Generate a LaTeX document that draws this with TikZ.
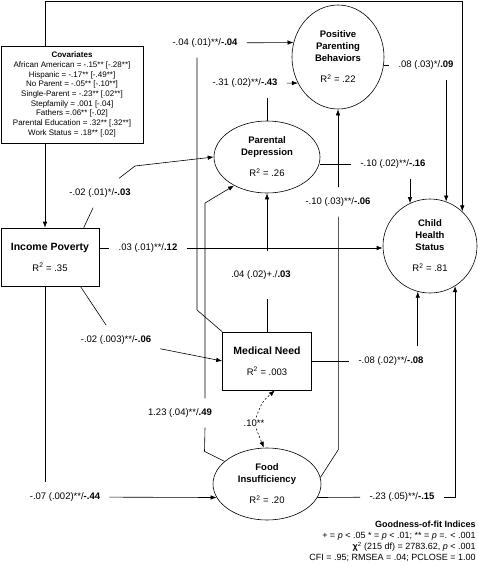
\documentclass[tikz,border=0pt]{standalone}
\usepackage{fontspec}
\setmainfont{Liberation Sans}
\usetikzlibrary{arrows.meta, calc, positioning, shapes}

\begin{document}
\begin{tikzpicture}[x=1pt, y=-1pt, line width=0.6pt,
	>={Latex[length=6pt,width=4.5pt]},
	every node/.style={font=\fontsize{9.5}{12}\selectfont},
	boxnode/.style={draw, rectangle, align=center, inner sep=0pt},
	ovalnode/.style={draw, ellipse, align=center, inner sep=0pt},
	pathlbl/.style={inner xsep=9pt, inner ysep=10pt},
	dotline/.style={dash pattern=on 2pt off 2pt}]
	\useasboundingbox (0,0) rectangle (478,566);
	\coordinate (topleft) at (45,1);
	\coordinate (mn-out) at (197,310);
	\coordinate (pd-in) at (205,203);
	
	% covariates and income poverty
	\node[boxnode, minimum width=142, minimum height=97, font=\fontsize{8}{9.7}\selectfont] (cov) at (72,94.5)
	{\textbf{Covariates}\\ African American = -.15** [-.28**]\\ Hispanic = -.17** [-.49**]\\
	 No Parent = -.05** [-.10**]\\ Single-Parent = -.23** [.02**]\\ Stepfamily = .001 [-.04]\\
	 Fathers =.06** [-.02]\\ Parental Education = .32** [.32**]\\ Work Status = .18** [.02]};
	\node[boxnode, minimum width=98, minimum height=58] (ip) at (50,257)
	{{\fontsize{10.5}{12}\selectfont\textbf{Income Poverty}}\\[9pt] R\textsuperscript{2} = .35};
	
	% mediators
	\node[ovalnode, minimum width=92, minimum height=104] (ppb) at (338,57)
	{\textbf{Positive}\\ \textbf{Parenting}\\ \textbf{Behaviors}\\[9pt] R\textsuperscript{2} = .22};
	\node[ovalnode, minimum width=106, minimum height=72] (pd) at (267,157)
	{\textbf{Parental}\\ \textbf{Depression}\\[9pt] R\textsuperscript{2} = .26};
	\node[boxnode, minimum width=89, minimum height=58] (mn) at (267,361)
	{{\fontsize{10.5}{12}\selectfont\textbf{Medical Need}}\\[9pt] R\textsuperscript{2} = .003};
	\node[ovalnode, minimum width=108, minimum height=72] (fi) at (267,484)
	{\textbf{Food}\\ \textbf{Insufficiency}\\[9pt] R\textsuperscript{2} = .20};
	
	% outcome
	\node[draw, circle, align=center, minimum size=94, inner sep=0pt] (chs) at (430,246)
	{\textbf{Child}\\ \textbf{Health}\\ \textbf{Status}\\[9pt] R\textsuperscript{2} = .81};
	
	% path coefficients
	\node[pathlbl] (l-ip-pd) at (100,193) {-.02 (.01)*/\textbf{-.03}};
	\node[pathlbl] (l-ip-chs) at (148,248) {.03 (.01)**/\textbf{.12}};
	\node[pathlbl] (l-ip-mn) at (116,340) {-.02 (.003)**/\textbf{-.06}};
	\node[pathlbl] (l-ip-fi) at (65,497) {-.07 (.002)**/\textbf{-.44}};
	\node[pathlbl] (l-mn-ppb) at (205,43) {-.04 (.01)**/\textbf{-.04}};
	\node[pathlbl] (l-pd-ppb) at (245,83) {-.31 (.02)**/\textbf{-.43}};
	\node[pathlbl] (l-fi-pd) at (180,413) {1.23 (.04)**/\textbf{.49}};
	\node[pathlbl] (l-pd-chs) at (393,164) {-.10 (.02)**/\textbf{-.16}};
	\node[pathlbl] (l-ppb-chs) at (426,65) {.08 (.03)*/\textbf{.09}};
	\node[pathlbl] (l-fi-ppb) at (338,202) {-.10 (.03)**/\textbf{-.06}};
	\node[pathlbl, inner ysep=19pt] (l-mn-pd) at (261,275) {.04 (.02)+./\textbf{.03}};
	\node[pathlbl] (l-mn-chs) at (391,361) {-.08 (.02)**/\textbf{-.08}};
	\node[pathlbl] (l-fi-chs) at (402,497) {-.23 (.05)**/\textbf{-.15}};
	\node[inner sep=2pt] (l-mn-fi) at (254,423) {.10**};
	
	% covariates paths
	\draw[->] (cov.north -| topleft) -- (topleft) -| (chs.47);
	\draw[->] (cov.south -| topleft) -- (ip.north -| topleft);
	
	% income poverty paths
	\draw (ip.41) -- (l-ip-pd);
	\draw[->] (l-ip-pd) -- (135,166) -- (pd.west);
	\draw (ip.east |- l-ip-chs) -- (l-ip-chs);
	\draw[->] (l-ip-chs) -- (chs.west |- l-ip-chs);
	\draw (ip.-44) -- (l-ip-mn);
	\draw[->] (l-ip-mn) -- (mn.west);
	\draw (ip.south -| topleft) -- (topleft |- l-ip-fi.north);
	\draw[->] (l-ip-fi) -- (fi.195);
	
	% medical need paths
	\draw (mn.north west) -- (mn-out) -- (mn-out |- l-mn-ppb.south);
	\draw[->] (l-mn-ppb) -- (ppb.162);
	\draw (mn) -- (mn |- l-mn-pd.south);
	\draw[->] (mn |- l-mn-pd.north) -- (pd);
	\draw (mn.east |- l-mn-chs) -- (l-mn-chs);
	\draw[->] (l-mn-chs.north -| chs.-105) -- (chs.-105);
	\draw[dotline, ->] (l-mn-fi) .. controls (262,402) .. (mn.-75);
	\draw[dotline, ->] (l-mn-fi) -- (fi.95);
	
	% food insufficiency paths
	\draw (fi.152) -- ++(-20,-10) -- (pd-in |- l-fi-pd.south);
	\draw[->] (pd-in |- l-fi-pd.north) -- (pd-in) -- (pd.221);
	\draw (fi.7) -- ++(18,-28) coordinate (fi-out) -- (fi-out |- l-fi-ppb.south);
	\draw[->] (l-fi-ppb) -- (ppb);
	\draw (fi.-15) -- (l-fi-chs);
	\draw[->] (l-fi-chs) -| (chs.-58);
	
	% parental depression and parenting paths
	\draw (pd.north) -- (pd.north |- l-pd-ppb.south);
	\draw[->] (l-pd-ppb) -- (ppb.213);
	\draw (pd.east |- l-pd-chs) -- (l-pd-chs);
	\draw[->] (l-pd-chs.south -| chs.115) -- (chs.115);
	\draw (ppb.east |- l-ppb-chs) -- (l-ppb-chs);
	\draw[->] (l-ppb-chs.south -| chs.70) -- (chs.70);
	
	% fit indices
	\node[anchor=north east, align=right, inner sep=0pt, font=\fontsize{9}{11}\selectfont] (gof) at (476,521)
	{\textbf{Goodness-of-fit Indices}\\ + = \textit{p} < .05 * = \textit{p} < .01; ** = \textit{p} =. < .001\\
	 \textbf{χ}\textsuperscript{2} (215 df) = 2783.62, \textit{p} < .001\\ CFI = .95; RMSEA = .04; PCLOSE = 1.00};
\end{tikzpicture}
\end{document}
